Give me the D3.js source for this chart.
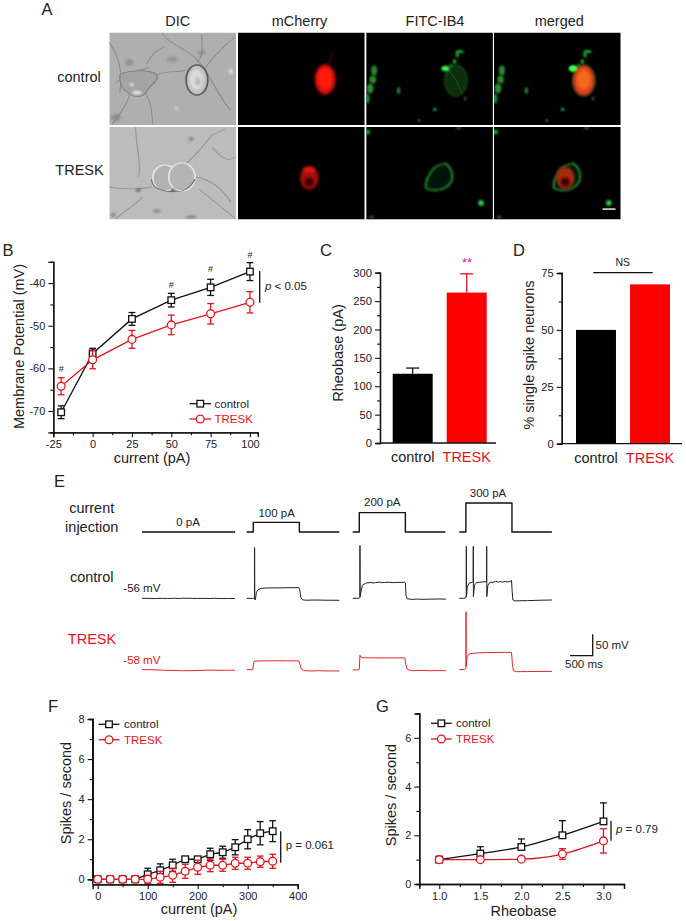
<!DOCTYPE html>
<html>
<head>
<meta charset="utf-8">
<script src="https://d3js.org/d3.v7.min.js"></script>
<style>
  html, body { margin: 0; padding: 0; background: #fff; }
  svg { display: block; }
  text { font-family: "Liberation Sans", Arial, sans-serif; fill: #222; }
</style>
</head>
<body>
<div id="viz"></div>
<script>
// Colours
const black = "#111";
const red = "#e1151d";

// Panel B: membrane potential
const bCurrent = [-20, 0, 25, 50, 75, 100];
const bControl = [-70.3, -56.5, -48.4, -44, -41, -37.3];
const bControlErr = [1.5, 1.2, 1.5, 1.6, 1.9, 2.1];
const bTresk = [-64.2, -58, -53.2, -49.8, -47.2, -44.5];
const bTreskErr = [2, 2.1, 2.1, 2.3, 2.4, 2.5];
const bHashes = [-20, 50, 75, 100];
const bHashLevels = [-60.8, -41.2, -37.3, -34.2];

// Panel C: rheobase
const groups = ["control", "TRESK"];
const cValues = [122, 265];
const cErrors = [10, 33];

// Panel D: % single spike neurons
const dValues = [50, 70];

// Panel E: traces as [ms, mV]
const stepOn = 145, stepOff = 1160;
const stepLevels = [0, 100, 200, 300];
const control0 = [[0,-56],[150,-56.2],[300,-56.6],[420,-56],[560,-56.4],[700,-55.9],[820,-56.3],[900,-55.8],[1100,-56.1],[1220,-56.5],[1300,-56.2],[1500,-56.4],[1600,-56],[1700,-56.7],[1900,-56.3],[2050,-56.5]];
const control100 = [[0,-56],[125,-56.2],[150,-56],[172,-56],[174,63],[177,-58],[190,-60],[215,-42],[250,-36],[300,-33],[400,-31.8],[600,-31.6],[800,-31.4],[1000,-31],[1150,-31.2],[1170,-36],[1190,-54],[1230,-59.5],[1300,-60.5],[1500,-60],[1700,-60.4],[1900,-60.6],[2040,-60.7]];
const control200 = [[0,-56],[120,-56],[150,-55.5],[158,-54],[160,68],[163,-52],[180,-42],[215,-25],[300,-20],[400,-19],[450,-20],[500,-19.2],[600,-18],[650,-19.4],[700,-18.8],[800,-18.2],[900,-19.2],[1000,-18.6],[1140,-18.5],[1160,-20],[1175,-50],[1200,-57],[1300,-58.5],[1400,-57.8],[1500,-58.4],[1700,-58],[1900,-57.6],[2050,-58]];
const control300 = [[0,-56],[100,-56],[140,-55],[153,-50],[155,66],[158,-52],[175,-30],[220,-20],[290,-18],[305,-17],[308,66],[311,-52],[335,-25],[380,-19],[480,-18],[590,-17],[601,-17],[603,66],[606,-52],[630,-25],[680,-18],[740,-19],[800,-16],[860,-18],[900,-17],[960,-18],[1000,-16.5],[1060,-17.6],[1100,-16],[1130,-17],[1150,-14],[1165,-40],[1180,-60],[1220,-62],[1500,-61.5],[1800,-60.5],[2040,-60]];
const tresk0 = [[0,-58],[200,-58],[350,-58.6],[500,-59.3],[700,-59.8],[900,-60.5],[1100,-60.3],[1300,-59.6],[1500,-59],[1700,-59.6],[1900,-59.2],[2050,-59.4]];
const tresk100 = [[0,-58],[135,-58],[150,-45],[165,-38],[300,-37.4],[600,-37],[900,-37.2],[1150,-37.2],[1175,-46],[1200,-56],[1260,-60],[1400,-61],[1600,-60.4],[1800,-61],[2040,-61]];
const tresk200 = [[0,-58.5],[120,-58.5],[145,-57],[160,-24],[175,-28],[230,-30],[500,-30.2],[800,-30.4],[1150,-30.2],[1170,-45],[1200,-57],[1300,-60.5],[1500,-59.6],[1700,-60.4],[1900,-60],[2050,-60.5]];
const tresk300 = [[0,-58],[120,-57.5],[140,-56],[146,-54],[148,78],[152,-50],[170,-28],[220,-21],[350,-19],[600,-17.8],[1000,-17.4],[1150,-17.4],[1170,-45],[1190,-60],[1260,-62.6],[1500,-62.4],[1800,-62],[2040,-62]];

// Panel F: spikes vs current
const fCurrent = [0, 25, 50, 75, 100, 125, 150, 175, 200, 225, 250, 275, 300, 325, 350];
const fControl = [0, 0, 0, 0, 0.25, 0.45, 0.7, 1, 1, 1.25, 1.35, 1.6, 2, 2.3, 2.4];
const fControlErr = [0, 0, 0, 0, 0.3, 0.32, 0.3, 0.1, 0.08, 0.3, 0.3, 0.38, 0.48, 0.58, 0.52];
const fTresk = [0, 0, 0, 0, 0, 0.1, 0.2, 0.4, 0.6, 0.7, 0.7, 0.8, 0.8, 0.88, 0.9];
const fTreskErr = [0, 0, 0, 0, 0.2, 0.3, 0.35, 0.35, 0.35, 0.32, 0.3, 0.3, 0.3, 0.28, 0.35];

// Panel G: spikes vs rheobase
const gRheobase = [1, 1.5, 2, 2.5, 3];
const gControl = [1, 1.25, 1.52, 2, 2.57];
const gControlErr = [0, 0.28, 0.33, 0.6, 0.76];
const gTresk = [1, 1, 1.02, 1.23, 1.77];
const gTreskErr = [0, 0.08, 0.1, 0.22, 0.5];

const svg = d3.select("#viz").append("svg")
    .attr("width", 686)
    .attr("height", 921);

const defs = svg.append("defs");
[["blur0", 0.45], ["blur1", 0.8], ["blur2", 1.4], ["blur3", 2.5]].forEach(([id, s]) => {
    defs.append("filter").attr("id", id)
        .attr("x", "-50%").attr("y", "-50%").attr("width", "200%").attr("height", "200%")
        .append("feGaussianBlur").attr("stdDeviation", s);
});

const label = (x, y, s, opts = {}) => svg.append("text")
    .attr("x", x).attr("y", y)
    .attr("font-size", opts.size || 14)
    .attr("text-anchor", opts.anchor || "start")
    .style("fill", opts.color || "#222")
    .text(s);

const yLabel = (x, y, s, size) => svg.append("text")
    .attr("transform", `translate(${x},${y}) rotate(-90)`)
    .attr("font-size", size || 14.5)
    .attr("text-anchor", "middle")
    .text(s);

// Panel letters
[["A", 41.5, 15], ["B", 2.5, 256], ["C", 320, 256], ["D", 513, 256], ["E", 54, 487], ["F", 48, 712], ["G", 376, 712]]
    .forEach(d => label(d[1], d[2], d[0], {size: 16.5}));

// ---------- Panel A: micrographs ----------
const colX = [109.3, 238, 366.2, 494];
const rowY = [32.5, 127];
// cell contents are laid out on a 96 wide grid, then stretched to the panel width
const imgW = 96, imgH = 92.5, imgStretch = 1.32;

const panelA = svg.append("g");
defs.selectAll("clipPath").data([0]).enter().append("clipPath").attr("id", "imgClip")
    .append("rect").attr("width", imgW).attr("height", imgH);

const blob = (g, cx, cy, rx, ry, color, filter, opacity) => g.append("ellipse")
    .attr("cx", cx).attr("cy", cy).attr("rx", rx).attr("ry", ry)
    .attr("fill", color).attr("filter", `url(#${filter})`).attr("opacity", opacity === undefined ? 1 : opacity);

const thread = (g, d, color, w, opacity) => g.append("path")
    .attr("d", d).attr("fill", "none").attr("stroke", color)
    .attr("stroke-width", w).attr("opacity", opacity === undefined ? 1 : opacity)
    .attr("filter", "url(#blur0)");

const redRow1 = g => {
    blob(g, 66, 47, 7.8, 15, "#d80c0c", "blur2");
    blob(g, 66, 46, 5.5, 11, "#ff1a10", "blur2");
    thread(g, "M68 32 L72 20", "#700", 1, 0.6);
};
const redRow2 = g => {
    blob(g, 54, 51, 7, 11.5, "#a80a0e", "blur2");
    blob(g, 54, 55, 3.5, 4.5, "#3a0304", "blur2");
    blob(g, 54, 43, 4.5, 3, "#d81212", "blur2");
};
const greenRow1 = g => {
    [[6, 38, 2.2, 5], [5, 47, 2.5, 4], [3, 56, 2.6, 5], [1, 66, 1.5, 5], [24.5, 58, 1.2, 3.5]]
        .forEach(d => blob(g, d[0], d[1], d[2], d[3], "#2a8c30", "blur1"));
    g.append("ellipse").attr("cx", 68).attr("cy", 48).attr("rx", 8.5).attr("ry", 15.5)
        .attr("fill", "#0a2e0e").attr("stroke", "#125a18").attr("stroke-width", 0.8).attr("filter", "url(#blur1)");
    thread(g, "M62 38 C68 44 70 54 72 60", "#1a6a20", 0.6);
    blob(g, 60, 36, 3, 2.8, "#3cff44", "blur1");
    [[71, 19, 3, 1.5], [69, 22, 1.2, 3], [67, 29, 1.4, 2.2], [64, 33, 1.2, 1.2], [75, 66, 0.8, 1.6]]
        .forEach(d => blob(g, d[0], d[1], d[2], d[3], "#2aa834", "blur1"));
    blob(g, 52, 77, 1.4, 1.4, "#2ea836", "blur1");
    blob(g, 40, 88, 0.9, 0.9, "#3cd844", "blur1");
};
const greenRow2 = g => {
    g.append("path")
        .attr("d", "M60 36 C66 42 66 48 65 54 C62 62 54 66 46 62 C44 60 45 52 48 47 C50 40 54 38 60 36Z")
        .attr("fill", "#04160a").attr("stroke", "#2a9c32").attr("stroke-width", 1.1).attr("filter", "url(#blur1)");
    blob(g, 87, 76, 2.2, 3, "#2fc63a", "blur1");
    blob(g, 1, 5, 2, 2.5, "#27a12f", "blur1");
    blob(g, 70, 1, 2, 1.2, "#1f7a26", "blur1");
    blob(g, 4, 90, 2, 1.5, "#1a6a20", "blur1");
};

const imageCell = (c, r, bg) => {
    const g = panelA.append("g")
        .attr("transform", `translate(${colX[c]},${rowY[r]}) scale(${imgStretch},1)`)
        .append("g").attr("clip-path", "url(#imgClip)");
    g.append("rect").attr("width", imgW).attr("height", imgH).attr("fill", bg);
    return g;
};

// DIC row 1
{
    const g = imageCell(0, 0, "#afafaf");
    [[15, 30, 3, 3], [48, 27, 4, 2.5], [5, 85, 3.5, 3.5], [70, 20, 3, 2]]
        .forEach(d => blob(g, d[0], d[1], d[2], d[3], "#848484", "blur2", 0.8));
    ["M0 10 C8 25 10 40 8 60", "M40 0 C42 8 55 15 62 22", "M62 22 C75 35 80 60 92 78",
     "M28 32 C32 24 34 18 42 14", "M30 35 C20 38 12 42 5 50", "M36 42 C44 38 50 40 58 38",
     "M28 62 C32 70 32 80 33 92", "M16 60 C14 70 10 78 2 92", "M95 5 C85 15 78 25 70 40", "M70 2 C70 12 72 25 66 30"]
        .forEach(d => thread(g, d, "#858585", 0.8, 0.9));
    g.append("path").attr("d", "M8 42 C14 38 30 36 36 42 C38 50 30 52 28 60 C24 66 18 65 14 60 C8 56 8 48 8 42Z")
        .attr("fill", "#a4a4a4").attr("stroke", "#808080").attr("stroke-width", 0.9).attr("filter", "url(#blur0)");
    blob(g, 21, 60, 3.5, 1.5, "#eee", "blur1");
    blob(g, 17, 52, 1.4, 1.4, "#f0f0f0", "blur1");
    g.append("ellipse").attr("cx", 66.4).attr("cy", 47.5).attr("rx", 8.2).attr("ry", 15)
        .attr("fill", "#c2c2c2").attr("stroke", "#5c5c5c").attr("stroke-width", 1.4).attr("filter", "url(#blur0)");
    blob(g, 66, 47, 5, 10, "#dcdcdc", "blur1");
    blob(g, 67, 49, 2, 4, "#b8b8b8", "blur1");
    blob(g, 51, 76, 1.2, 2.5, "#d0d0d0", "blur1");
    blob(g, 92, 39, 1.5, 3, "#d8d8d8", "blur1");
}
// DIC row 2
{
    const g = imageCell(0, 1, "#bcbcbc");
    [[62, 90, 4, 1.5], [3, 88, 2, 2], [36, 84, 3, 1.5], [62, 12, 2, 2]]
        .forEach(d => blob(g, d[0], d[1], d[2], d[3], "#6a6a6a", "blur1", 0.65));
    ["M78 8 C70 20 65 30 55 40", "M78 8 L88 2", "M20 0 C20 20 25 40 22 50", "M65 50 C75 52 85 60 92 75",
     "M0 60 C12 63 25 62 32 60", "M25 70 C20 78 10 85 5 92", "M96 30 C90 35 85 32 78 20", "M68 62 L96 92"]
        .forEach(d => thread(g, d, "#8e8e8e", 0.8, 0.9));
    g.append("ellipse").attr("cx", 42).attr("cy", 51).attr("rx", 9).attr("ry", 13)
        .attr("fill", "#b2b2b2").attr("stroke", "#ececec").attr("stroke-width", 1.2).attr("filter", "url(#blur0)");
    g.append("ellipse").attr("cx", 55).attr("cy", 50).attr("rx", 10).attr("ry", 14)
        .attr("fill", "#b4b4b4").attr("stroke", "#e8e8e8").attr("stroke-width", 1.2).attr("filter", "url(#blur0)");
    thread(g, "M32 52 C32 62 42 66 50 64 C56 66 62 60 65 52", "#707070", 0.9);
    blob(g, 22, 63, 2.2, 1.6, "#555", "blur1", 0.8);
    blob(g, 48, 63, 1.4, 1.4, "#444", "blur1");
}
redRow1(imageCell(1, 0, "#000"));
redRow2(imageCell(1, 1, "#000"));
greenRow1(imageCell(2, 0, "#000"));
greenRow2(imageCell(2, 1, "#000"));
{
    const g = imageCell(3, 0, "#000");
    greenRow1(g);
    blob(g, 68, 48, 8, 15, "#e8401a", "blur2");
    blob(g, 68, 47, 5, 10, "#f26a1c", "blur2");
    blob(g, 60, 36, 3, 2.8, "#3cff44", "blur1");
}
{
    const g = imageCell(3, 1, "#000");
    greenRow2(g);
    blob(g, 54, 51, 7, 11, "#a82a10", "blur2");
    blob(g, 54, 55, 3.5, 4.5, "#3a0304", "blur2");
}
panelA.append("rect").attr("x", 602.5).attr("y", 208.3).attr("width", 13).attr("height", 1.6).attr("fill", "#ddd");

[["DIC", 177.7], ["mCherry", 299.5], ["FITC-IB4", 435], ["merged", 559.3]]
    .forEach(d => label(d[1], 26, d[0], {size: 14.5, anchor: "middle"}));
label(79, 81.7, "control", {size: 14.5, anchor: "middle"});
label(79.5, 175, "TRESK", {size: 14.5, anchor: "middle"});

// ---------- axes helper ----------
const plain = d => String(d);

function styleAxis(g, fontSize) {
    g.selectAll("path").attr("stroke", black).attr("stroke-width", 1.3);
    g.selectAll("line").attr("stroke", black).attr("stroke-width", 1.1);
    g.selectAll("text")
        .attr("font-size", fontSize || 11)
        .style("font-family", '"Liberation Sans", Arial, sans-serif')
        .style("fill", "#222");
}

function drawAxes(x, y, xMajor, xMinor, yMajor, yMinor, xFormat, baseY, leftX) {
    const xg = svg.append("g").attr("transform", `translate(0,${baseY})`)
        .call(d3.axisBottom(x).tickValues(xMinor).tickSize(3).tickFormat(""));
    const xg2 = svg.append("g").attr("transform", `translate(0,${baseY})`)
        .call(d3.axisBottom(x).tickValues(xMajor).tickSize(5).tickPadding(3).tickFormat(xFormat));
    const yg = svg.append("g").attr("transform", `translate(${leftX},0)`)
        .call(d3.axisLeft(y).tickValues(yMinor).tickSize(3).tickFormat(""));
    const yg2 = svg.append("g").attr("transform", `translate(${leftX},0)`)
        .call(d3.axisLeft(y).tickValues(yMajor).tickSize(5).tickPadding(3).tickFormat(plain));
    [xg, xg2, yg, yg2].forEach(g => styleAxis(g));
}

// Line with error bars and markers
function series(xs, ys, errs, x, y, color, marker, curve, upOnly) {
    const g = svg.append("g");
    const pts = xs.map((d, i) => ({x: d, y: ys[i], e: errs[i]}));
    g.append("path")
        .attr("d", d3.line().x(d => x(d.x)).y(d => y(d.y)).curve(curve || d3.curveLinear)(pts))
        .attr("fill", "none").attr("stroke", color).attr("stroke-width", 1.3);
    const cap = 3.4;
    pts.filter(d => d.e > 0).forEach(d => {
        const top = y(d.y + d.e), bot = upOnly ? y(d.y) : y(d.y - d.e);
        g.append("line").attr("x1", x(d.x)).attr("x2", x(d.x)).attr("y1", top).attr("y2", bot)
            .attr("stroke", color).attr("stroke-width", 1.3);
        g.append("line").attr("x1", x(d.x) - cap).attr("x2", x(d.x) + cap).attr("y1", top).attr("y2", top)
            .attr("stroke", color).attr("stroke-width", 1.3);
        if (!upOnly) {
            g.append("line").attr("x1", x(d.x) - cap).attr("x2", x(d.x) + cap).attr("y1", bot).attr("y2", bot)
                .attr("stroke", color).attr("stroke-width", 1.3);
        }
    });
    pts.forEach(d => drawMarker(g, x(d.x), y(d.y), marker, color));
}

function drawMarker(g, cx, cy, marker, color) {
    if (marker === "square") {
        g.append("rect").attr("x", cx - 3.3).attr("y", cy - 3.3).attr("width", 6.6).attr("height", 6.6)
            .attr("fill", "#fff").attr("stroke", color).attr("stroke-width", 1.3);
    } else {
        g.append("circle").attr("cx", cx).attr("cy", cy).attr("r", 3.9)
            .attr("fill", "#fff").attr("stroke", color).attr("stroke-width", 1.3);
    }
}

function legend(x0, x1, y0, y1, textX) {
    [[y0, black, "square", "control"], [y1, red, "circle", "TRESK"]].forEach(d => {
        svg.append("line").attr("x1", x0).attr("x2", x1).attr("y1", d[0]).attr("y2", d[0])
            .attr("stroke", d[1]).attr("stroke-width", 1.3);
        drawMarker(svg, (x0 + x1) / 2, d[0], d[2], d[1]);
        label(textX, d[0] + 4, d[3], {size: 11.5, color: d[1] === red ? red : "#222"});
    });
}

function pBracket(x, y0, y1) {
    svg.append("line").attr("x1", x).attr("x2", x).attr("y1", y0).attr("y2", y1)
        .attr("stroke", black).attr("stroke-width", 1.3);
}

function pText(x, y, italic, rest) {
    const t = label(x, y, "", {size: 11.5});
    t.append("tspan").attr("font-style", italic ? "italic" : "normal").text("p");
    t.append("tspan").text(rest);
}

// ---------- Panel B ----------
{
    const x = d3.scaleLinear().domain([-25, 105]).range([53.3, 257.8]);
    const y = d3.scaleLinear().domain([-75, -35]).range([432.3, 261.8]);
    drawAxes(x, y, [-25, 0, 25, 50, 75, 100], [-12.5, 12.5, 37.5, 62.5, 87.5], [-70, -60, -50, -40], [-75, -65, -55, -45, -35], plain, 432.3, 53.3);
    series(bCurrent, bControl, bControlErr, x, y, black, "square");
    series(bCurrent, bTresk, bTreskErr, x, y, red, "circle");
    bHashes.forEach((d, i) => label(x(d), y(bHashLevels[i]), "#", {size: 9, anchor: "middle"}));
    legend(189.5, 211, 403.7, 419, 214.5);
    pBracket(259.7, 271, 302.7);
    pText(265, 290, true, " < 0.05");
    label(152, 463, "current (pA)", {size: 14.5, anchor: "middle"});
    yLabel(23.5, 346.5, "Membrane Potential (mV)");
}

// ---------- Panels C and D ----------
function barPanel(yDomain, yRange, left, right, barX, values, errors, yMajor, yMinor) {
    const y = d3.scaleLinear().domain(yDomain).range(yRange);
    const x = d3.scaleBand().domain(groups).range(barX).paddingInner(0.26).paddingOuter(0);
    svg.selectAll(null).data(groups).enter().append("rect")
        .attr("x", d => x(d)).attr("width", x.bandwidth())
        .attr("y", (d, i) => y(values[i]))
        .attr("height", (d, i) => y(0) - y(values[i]))
        .attr("fill", (d, i) => i ? "#fe0000" : "#000");
    if (errors) {
        groups.forEach((d, i) => {
            const cx = x(d) + x.bandwidth() / 2;
            const col = i ? red : black;
            svg.append("line").attr("x1", cx).attr("x2", cx).attr("y1", y(values[i])).attr("y2", y(values[i] + errors[i]))
                .attr("stroke", col).attr("stroke-width", 1.3);
            svg.append("line").attr("x1", cx - 6.5).attr("x2", cx + 6.5).attr("y1", y(values[i] + errors[i])).attr("y2", y(values[i] + errors[i]))
                .attr("stroke", col).attr("stroke-width", 1.3);
        });
    }
    const baseline = y(0);
    svg.append("line").attr("x1", left).attr("x2", right).attr("y1", baseline).attr("y2", baseline)
        .attr("stroke", black).attr("stroke-width", 1.3);
    const gMinor = svg.append("g").attr("transform", `translate(${left},0)`)
        .call(d3.axisLeft(y).tickValues(yMinor).tickSize(3).tickFormat(""));
    const gMajor = svg.append("g").attr("transform", `translate(${left},0)`)
        .call(d3.axisLeft(y).tickValues(yMajor).tickSize(5).tickPadding(3).tickFormat(plain));
    styleAxis(gMinor, 11.2);
    styleAxis(gMajor, 11.2);
    groups.forEach((d, i) => label(x(d) + x.bandwidth() / 2, baseline + 19, d,
        {size: 14.5, anchor: "middle", color: i ? red : "#222"}));
    return {x, y};
}

barPanel([0, 300], [443, 272.7], 380, 496, [392.7, 486.7], cValues, cErrors, [0, 50, 100, 150, 200, 250, 300], [25, 75, 125, 175, 225, 275]);
yLabel(343, 353, "Rheobase (pA)");
label(467, 267, "**", {size: 13, anchor: "middle", color: "#dd1f9a"});

barPanel([0, 75], [443.7, 273], 561.7, 682, [576, 670], dValues, null, [0, 25, 50, 75], [12.5, 37.5, 62.5]);
yLabel(534, 355, "% single spike neurons");
svg.append("line").attr("x1", 593.3).attr("x2", 652.7).attr("y1", 272.7).attr("y2", 272.7)
    .attr("stroke", black).attr("stroke-width", 1.3);
label(622.7, 266, "NS", {size: 10.5, anchor: "middle"});

// ---------- Panel E ----------
const traceX0 = [142, 246.7, 352.7, 459.3];
const ePxPerMs = 22.7 / 500, ePxPerMv = 21.3 / 50;
const tx = i => d3.scaleLinear().domain([0, 2050]).range([traceX0[i], traceX0[i] + 2050 * ePxPerMs]);
const yControl = d3.scaleLinear().domain([-56, 0]).range([598.3, 598.3 - 56 * ePxPerMv]);
const yTresk = d3.scaleLinear().domain([-58, 0]).range([669.7, 669.7 - 58 * ePxPerMv]);
const yStep = d3.scaleLinear().domain([0, 300]).range([532, 503]);

function drawTrace(points, x, y, color, w) {
    svg.append("path")
        .attr("d", d3.line().x(d => x(d[0])).y(d => y(d[1]))(points))
        .attr("fill", "none").attr("stroke", color).attr("stroke-width", w)
        .attr("stroke-linejoin", "round");
}

[control0, control100, control200, control300].forEach((t, i) => drawTrace(t, tx(i), yControl, "#222", 1));
[tresk0, tresk100, tresk200, tresk300].forEach((t, i) => drawTrace(t, tx(i), yTresk, "#e8242c", 1));
stepLevels.forEach((pA, i) => {
    const end = pA === 0 ? 2050 : 2040;
    const pts = pA === 0 ? [[0, 0], [end, 0]]
        : [[0, 0], [stepOn, 0], [stepOn, pA], [stepOff, pA], [stepOff, 0], [end, 0]];
    drawTrace(pts, tx(i), yStep, "#111", 1.4);
});

label(91.7, 513.3, "current", {size: 14.5, anchor: "middle"});
label(91.7, 531.5, "injection", {size: 14.5, anchor: "middle"});
label(91.7, 581.7, "control", {size: 14.5, anchor: "middle"});
label(92, 644, "TRESK", {size: 14.5, anchor: "middle", color: red});
label(123.3, 592.3, "-56 mV", {size: 11.5});
label(123.3, 664, "-58 mV", {size: 11.5, color: red});
[["0 pA", 188, 525.7], ["100 pA", 276.7, 516.7], ["200 pA", 382.3, 505.7], ["300 pA", 488, 497]]
    .forEach(d => label(d[1], d[2], d[0], {size: 11.5, anchor: "middle"}));
svg.append("path").attr("d", "M570 655.7 H592.7 V634.3")
    .attr("fill", "none").attr("stroke", black).attr("stroke-width", 1.3);
label(595.5, 649, "50 mV", {size: 11.5});
label(565, 667.5, "500 ms", {size: 11.5});

// ---------- Panel F ----------
{
    const x = d3.scaleLinear().domain([-10, 400]).range([92.7, 297.7]);
    const y = d3.scaleLinear().domain([0, 8]).range([879.3, 719]);
    drawAxes(x, y, [0, 100, 200, 300, 400], [50, 150, 250, 350], [0, 2, 4, 6, 8], [1, 3, 5, 7], plain, 884.3, 92.7);
    svg.append("line").attr("x1", 92.7).attr("x2", 92.7).attr("y1", 719).attr("y2", 884.3)
        .attr("stroke", black).attr("stroke-width", 1.3);
    series(fCurrent, fControl, fControlErr, x, y, black, "square");
    series(fCurrent, fTresk, fTreskErr, x, y, red, "circle");
    legend(98.5, 119.5, 724.3, 739.7, 124);
    pBracket(280.7, 831.3, 862.7);
    pText(285.7, 849.3, false, " = 0.061");
    label(199, 914, "current (pA)", {size: 14.5, anchor: "middle"});
    yLabel(71, 793, "Spikes / second");
}

// ---------- Panel G ----------
{
    const x = d3.scaleLinear().domain([0.757, 3.25]).range([419.3, 624]);
    const y = d3.scaleLinear().domain([0, 7]).range([884, 713.5]);
    drawAxes(x, y, [1, 1.5, 2, 2.5, 3], [0.757, 1.25, 1.75, 2.25, 2.75, 3.25], [0, 2, 4, 6], [1, 3, 5, 7], d3.format(".1f"), 884, 419.3);
    series(gRheobase, gControl, gControlErr, x, y, black, "square", d3.curveMonotoneX, true);
    series(gRheobase, gTresk, gTreskErr, x, y, red, "circle", d3.curveMonotoneX);
    legend(431, 451.7, 723.3, 739, 456);
    pBracket(611, 820.7, 840.7);
    pText(616, 833.3, true, " = 0.79");
    label(523.5, 915.5, "Rheobase", {size: 14.5, anchor: "middle"});
    yLabel(395.5, 795, "Spikes / second");
}
</script>
</body>
</html>
